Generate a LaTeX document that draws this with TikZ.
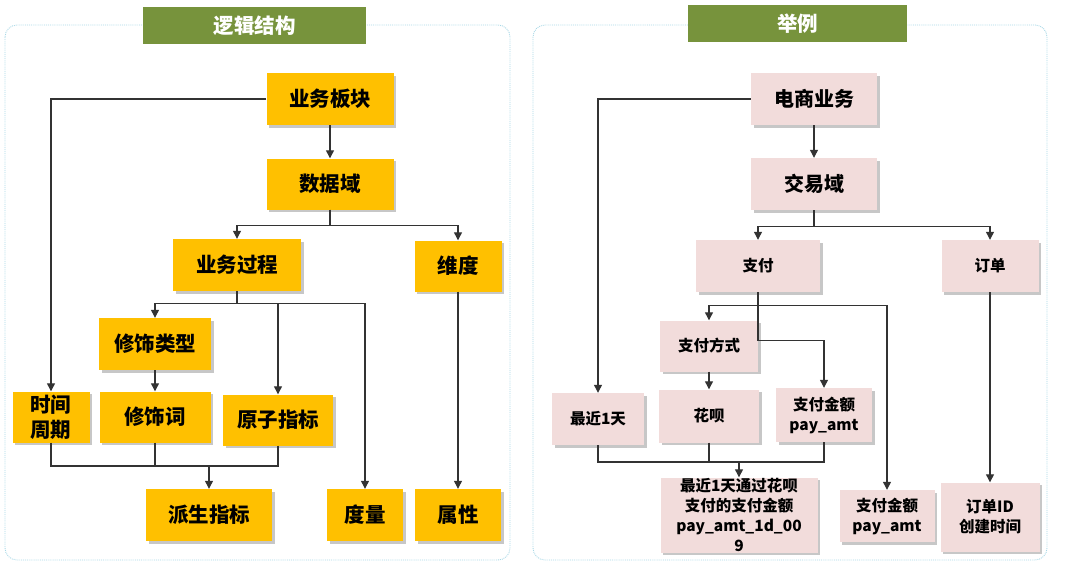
\documentclass[tikz,border=0pt]{standalone}
\usepackage{fontspec}
\setmainfont{Noto Sans CJK SC}
\usetikzlibrary{arrows.meta,shadows}

\definecolor{titlegreen}{HTML}{77933C}
\definecolor{boxyellow}{HTML}{FFC000}
\definecolor{boxpink}{HTML}{F2DCDB}
\definecolor{panelblue}{HTML}{A8D8E6}
\definecolor{linegray}{HTML}{333333}

\begin{document}
\begin{tikzpicture}[x=1pt,y=-1pt,
    >={Triangle[length=8pt,width=8pt]},
    conn/.style={draw=linegray, line width=1.2pt},
    panel/.style={draw=panelblue, densely dotted, line width=0.9pt, rounded corners=12pt},
    titlebar/.style={fill=titlegreen, text=white, inner sep=0pt,
        font=\bfseries\fontsize{20.5}{24}\selectfont},
    boxshadow/.style={drop shadow={shadow xshift=2.5pt, shadow yshift=-2.5pt, fill=black, opacity=0.22}},
    ybox/.style={fill=boxyellow, inner sep=0pt, align=center, boxshadow,
        font=\bfseries\fontsize{20.5}{25}\selectfont},
    pbox/.style={fill=boxpink, inner sep=0pt, align=center, boxshadow,
        font=\bfseries\fontsize{15.5}{20}\selectfont},
    pbig/.style={pbox, font=\bfseries\fontsize{20}{24}\selectfont}]

    \useasboundingbox (0,0) rectangle (1069,563);

    % Panels and titles
    \draw[panel] (5,25) rectangle (510,560);
    \draw[panel] (533,25) rectangle (1047,560);
    \node[titlebar, minimum width=223pt, minimum height=37pt] (tleft) at (254.5,25.5) {逻辑结构};
    \node[titlebar, minimum width=219pt, minimum height=37pt] (tright) at (797.5,23.5) {举例};

    % Logical structure
    \node[ybox, minimum width=127pt, minimum height=52pt] (ywbk) at (330,99) {业务板块};
    \node[ybox, minimum width=127pt, minimum height=51pt] (sjy) at (330,184) {数据域};
    \node[ybox, minimum width=128pt, minimum height=52pt] (ywgc) at (237,265) {业务过程};
    \node[ybox, minimum width=87pt, minimum height=51pt] (wd) at (458,266) {维度};
    \node[ybox, minimum width=112pt, minimum height=52pt] (xslx) at (155,344) {修饰类型};
    \node[ybox, minimum width=77pt, minimum height=51pt] (sjzq) at (51,417) {时间\\周期};
    \node[ybox, minimum width=111pt, minimum height=51pt] (xsc) at (155,417) {修饰词};
    \node[ybox, minimum width=110pt, minimum height=51pt] (yzzb) at (278,420) {原子指标};
    \node[ybox, minimum width=126pt, minimum height=52pt] (pszb) at (209,515) {派生指标};
    \node[ybox, minimum width=76pt, minimum height=52pt] (dl) at (365,515) {度量};
    \node[ybox, minimum width=86pt, minimum height=52pt] (sx) at (458,515) {属性};

    \draw[conn, ->] (ywbk.west) -| (sjzq.north);
    \draw[conn, ->] (ywbk) -- (sjy);
    \draw[conn, ->] (sjy.south) -- ++(0,16) -| (ywgc.north);
    \draw[conn, ->] (sjy.south) -- ++(0,16) -| (wd.north);
    \draw[conn, ->] (ywgc.south) -- ++(0,12) -| (xslx.north);
    \draw[conn, ->] (ywgc.south) -- ++(0,12) -| (yzzb.north);
    \draw[conn, ->] (ywgc.south) -- ++(0,12) -| (dl.north);
    \draw[conn, ->] (xslx) -- (xsc);
    \draw[conn, ->] (wd) -- (sx);
    \coordinate (mleft) at (209,466);
    \draw[conn] (sjzq.south) |- (mleft);
    \draw[conn] (yzzb.south) |- (mleft);
    \draw[conn] (xsc.south) -- (xsc.south |- mleft);
    \draw[conn, ->] (mleft) -- (pszb.north);

    % Example
    \node[pbig, minimum width=126pt, minimum height=52pt] (dsyw) at (814,99) {电商业务};
    \node[pbig, minimum width=126pt, minimum height=52pt] (jyy) at (814,184) {交易域};
    \node[pbox, minimum width=124pt, minimum height=52pt] (zf) at (758,266) {支付};
    \node[pbox, minimum width=97pt, minimum height=52pt] (dd) at (990,266) {订单};
    \node[pbox, minimum width=98pt, minimum height=51pt] (zffs) at (709,346) {支付方式};
    \node[pbox, minimum width=92pt, minimum height=52pt] (zjyt) at (598,419) {最近1天};
    \node[pbox, minimum width=100pt, minimum height=53pt] (hb) at (709,416) {花呗};
    \node[pbox, minimum width=96pt, minimum height=54pt] (zfje) at (824,415) {支付金额\\pay\_amt};
    \node[pbox, minimum width=157pt, minimum height=75pt] (hbje) at (739,515) {最近1天通过花呗\\支付的支付金额\\pay\_amt\_1d\_00\\9};
    \node[pbox, minimum width=95pt, minimum height=52pt] (zfjeb) at (887,516) {支付金额\\pay\_amt};
    \node[pbox, minimum width=99pt, minimum height=69pt] (ddid) at (990,517) {订单ID\\创建时间};

    \draw[conn, ->] (dsyw.west) -| (zjyt.north);
    \draw[conn, ->] (dsyw) -- (jyy);
    \draw[conn, ->] (jyy.south) -- ++(0,16) -| (zf.north);
    \draw[conn, ->] (jyy.south) -- ++(0,16) -| (dd.north);
    \draw[conn, ->] (zf.south) -- ++(0,13) -| (zffs.north);
    \draw[conn, ->] (zf.south) -- ++(0,13) -| (zfjeb.north);
    \draw[conn, ->] (zf.south) -- ++(0,48) -| (zfje.north);
    \draw[conn, ->] (zffs) -- (hb);
    \draw[conn, ->] (dd) -- (ddid);
    \coordinate (mright) at (739,462);
    \draw[conn] (zjyt.south) |- (mright);
    \draw[conn] (zfje.south) |- (mright);
    \draw[conn] (hb.south) -- (hb.south |- mright);
    \draw[conn, ->] (mright) -- (hbje.north);
\end{tikzpicture}
\end{document}
